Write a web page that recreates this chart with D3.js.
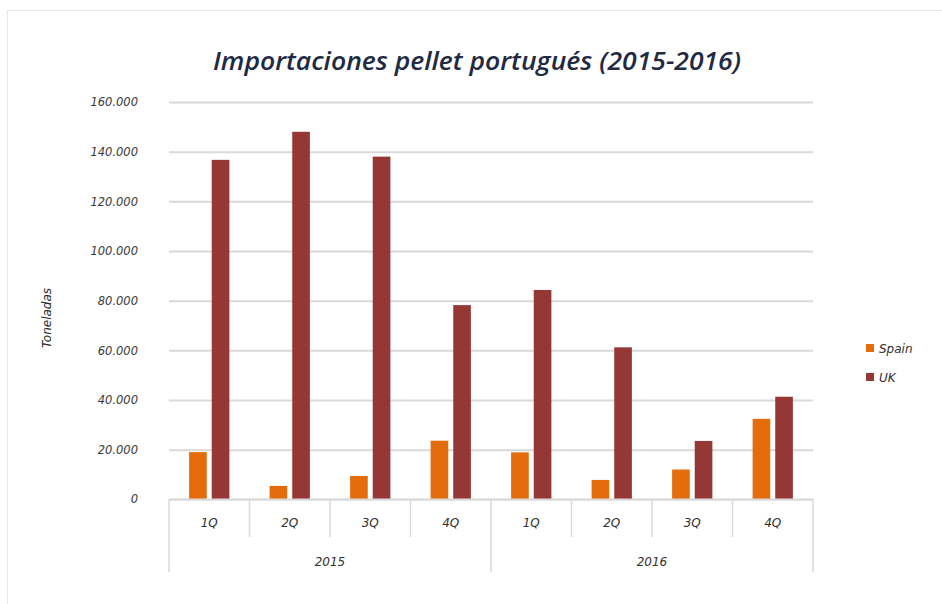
<!DOCTYPE html>
<html><head><meta charset="utf-8">
<script src="https://cdn.jsdelivr.net/npm/d3@7"></script>
<style>body{margin:0;background:#fff;} svg{display:block;}</style>
</head><body>
<svg id="c" width="942" height="604"></svg>
<script>
const quarters = ["1Q","2Q","3Q","4Q","1Q","2Q","3Q","4Q"];
const years = ["2015","2016"];
const seriesNames = ["Spain","UK"];
const spainValues = [19000, 5400, 9400, 23600, 18900, 7800, 12000, 32400];
const ukValues = [136700, 148000, 138000, 78200, 84300, 61200, 23500, 41300];
const yTicks = [0,20000,40000,60000,80000,100000,120000,140000,160000];
const colors = ["#E46C0A","#953735"];

(function(){
const svg = d3.select("#c");
svg.append("rect").attr("x",7.5).attr("y",10.5).attr("width",940).attr("height",600)
  .attr("fill","none").attr("stroke","#e6e6e6").attr("stroke-width",1);

const pL=169, pR=813, pT=102, pB=499.3;
const ids = quarters.map((q,i)=>i);
const x0 = d3.scaleBand().domain(ids).range([pL,pR]).padding(0);
const x1 = d3.scaleBand().domain(seriesNames).range([0,x0.bandwidth()]).paddingInner(0.22).paddingOuter(0.89);
const y = d3.scaleLinear().domain([0,160000]).range([pB,pT]);

const fmt = v => d3.format(",")(v).replace(/,/g,".");
const yAxis = d3.axisLeft(y).tickValues(yTicks).tickSize(-(pR-pL)).tickFormat(fmt).tickPadding(31);
const gy = svg.append("g").attr("transform",`translate(${pL},0)`).call(yAxis);
gy.select(".domain").remove();
gy.selectAll(".tick line").attr("stroke","#d9d9d9").attr("stroke-width",2);
gy.selectAll(".tick text").attr("font-family","DejaVu Sans").attr("font-style","italic")
  .attr("font-size",11.5).attr("fill","#3a3a3a");

const data = ids.map(i=>({i, vals:[{k:"Spain",v:spainValues[i]},{k:"UK",v:ukValues[i]}]}));
const g = svg.append("g");
g.selectAll("g.grp").data(data).join("g").attr("class","grp")
  .attr("transform",d=>`translate(${x0(d.i)},0)`)
  .selectAll("rect").data(d=>d.vals).join("rect")
  .attr("x",d=>x1(d.k)).attr("width",x1.bandwidth())
  .attr("y",d=>y(d.v)).attr("height",d=>pB-y(d.v))
  .attr("fill",(d,j)=>colors[j]);

const ax = svg.append("g").attr("stroke","#d9d9d9").attr("stroke-width",1.5);
ax.append("line").attr("x1",pL).attr("x2",pR).attr("y1",pB).attr("y2",pB);
d3.range(9).forEach(k=>{
  const xx = pL + k*x0.bandwidth();
  const long = (k%4===0);
  ax.append("line").attr("x1",xx).attr("x2",xx).attr("y1",pB).attr("y2",long?572:537);
});
svg.append("g").selectAll("text").data(ids).join("text")
  .attr("x",d=>x0(d)+x0.bandwidth()/2).attr("y",527)
  .attr("text-anchor","middle").attr("font-family","DejaVu Sans").attr("font-style","italic")
  .attr("font-size",12).attr("fill","#303030").text(d=>quarters[d]);
svg.append("g").selectAll("text").data(years).join("text")
  .attr("x",(d,i)=>pL + (i*4+2)*x0.bandwidth()).attr("y",566)
  .attr("text-anchor","middle").attr("font-family","DejaVu Sans").attr("font-style","italic")
  .attr("font-size",12).attr("fill","#303030").text(d=>d);

svg.append("text").attr("x",477).attr("y",70).attr("text-anchor","middle")
  .attr("font-family","Open Sans").attr("font-style","italic").attr("font-weight",600).attr("font-size",25)
  .attr("fill","#1f2a44").attr("textLength",528).attr("lengthAdjust","spacingAndGlyphs")
  .text("Importaciones pellet portugués (2015-2016)");

svg.append("text").attr("transform","translate(51,318) rotate(-90)").attr("text-anchor","middle")
  .attr("font-family","DejaVu Sans").attr("font-style","italic").attr("font-size",12)
  .attr("fill","#262626").text("Toneladas");

const lg = svg.append("g").selectAll("g").data(seriesNames).join("g")
  .attr("transform",(d,i)=>`translate(866,${344+i*29})`);
lg.append("rect").attr("width",8).attr("height",8).attr("fill",(d,i)=>colors[i]);
lg.append("text").attr("x",13).attr("y",8.5).attr("font-family","DejaVu Sans").attr("font-style","italic")
  .attr("font-size",12).attr("fill","#303030").text(d=>d);
})();
</script>
</body></html>
